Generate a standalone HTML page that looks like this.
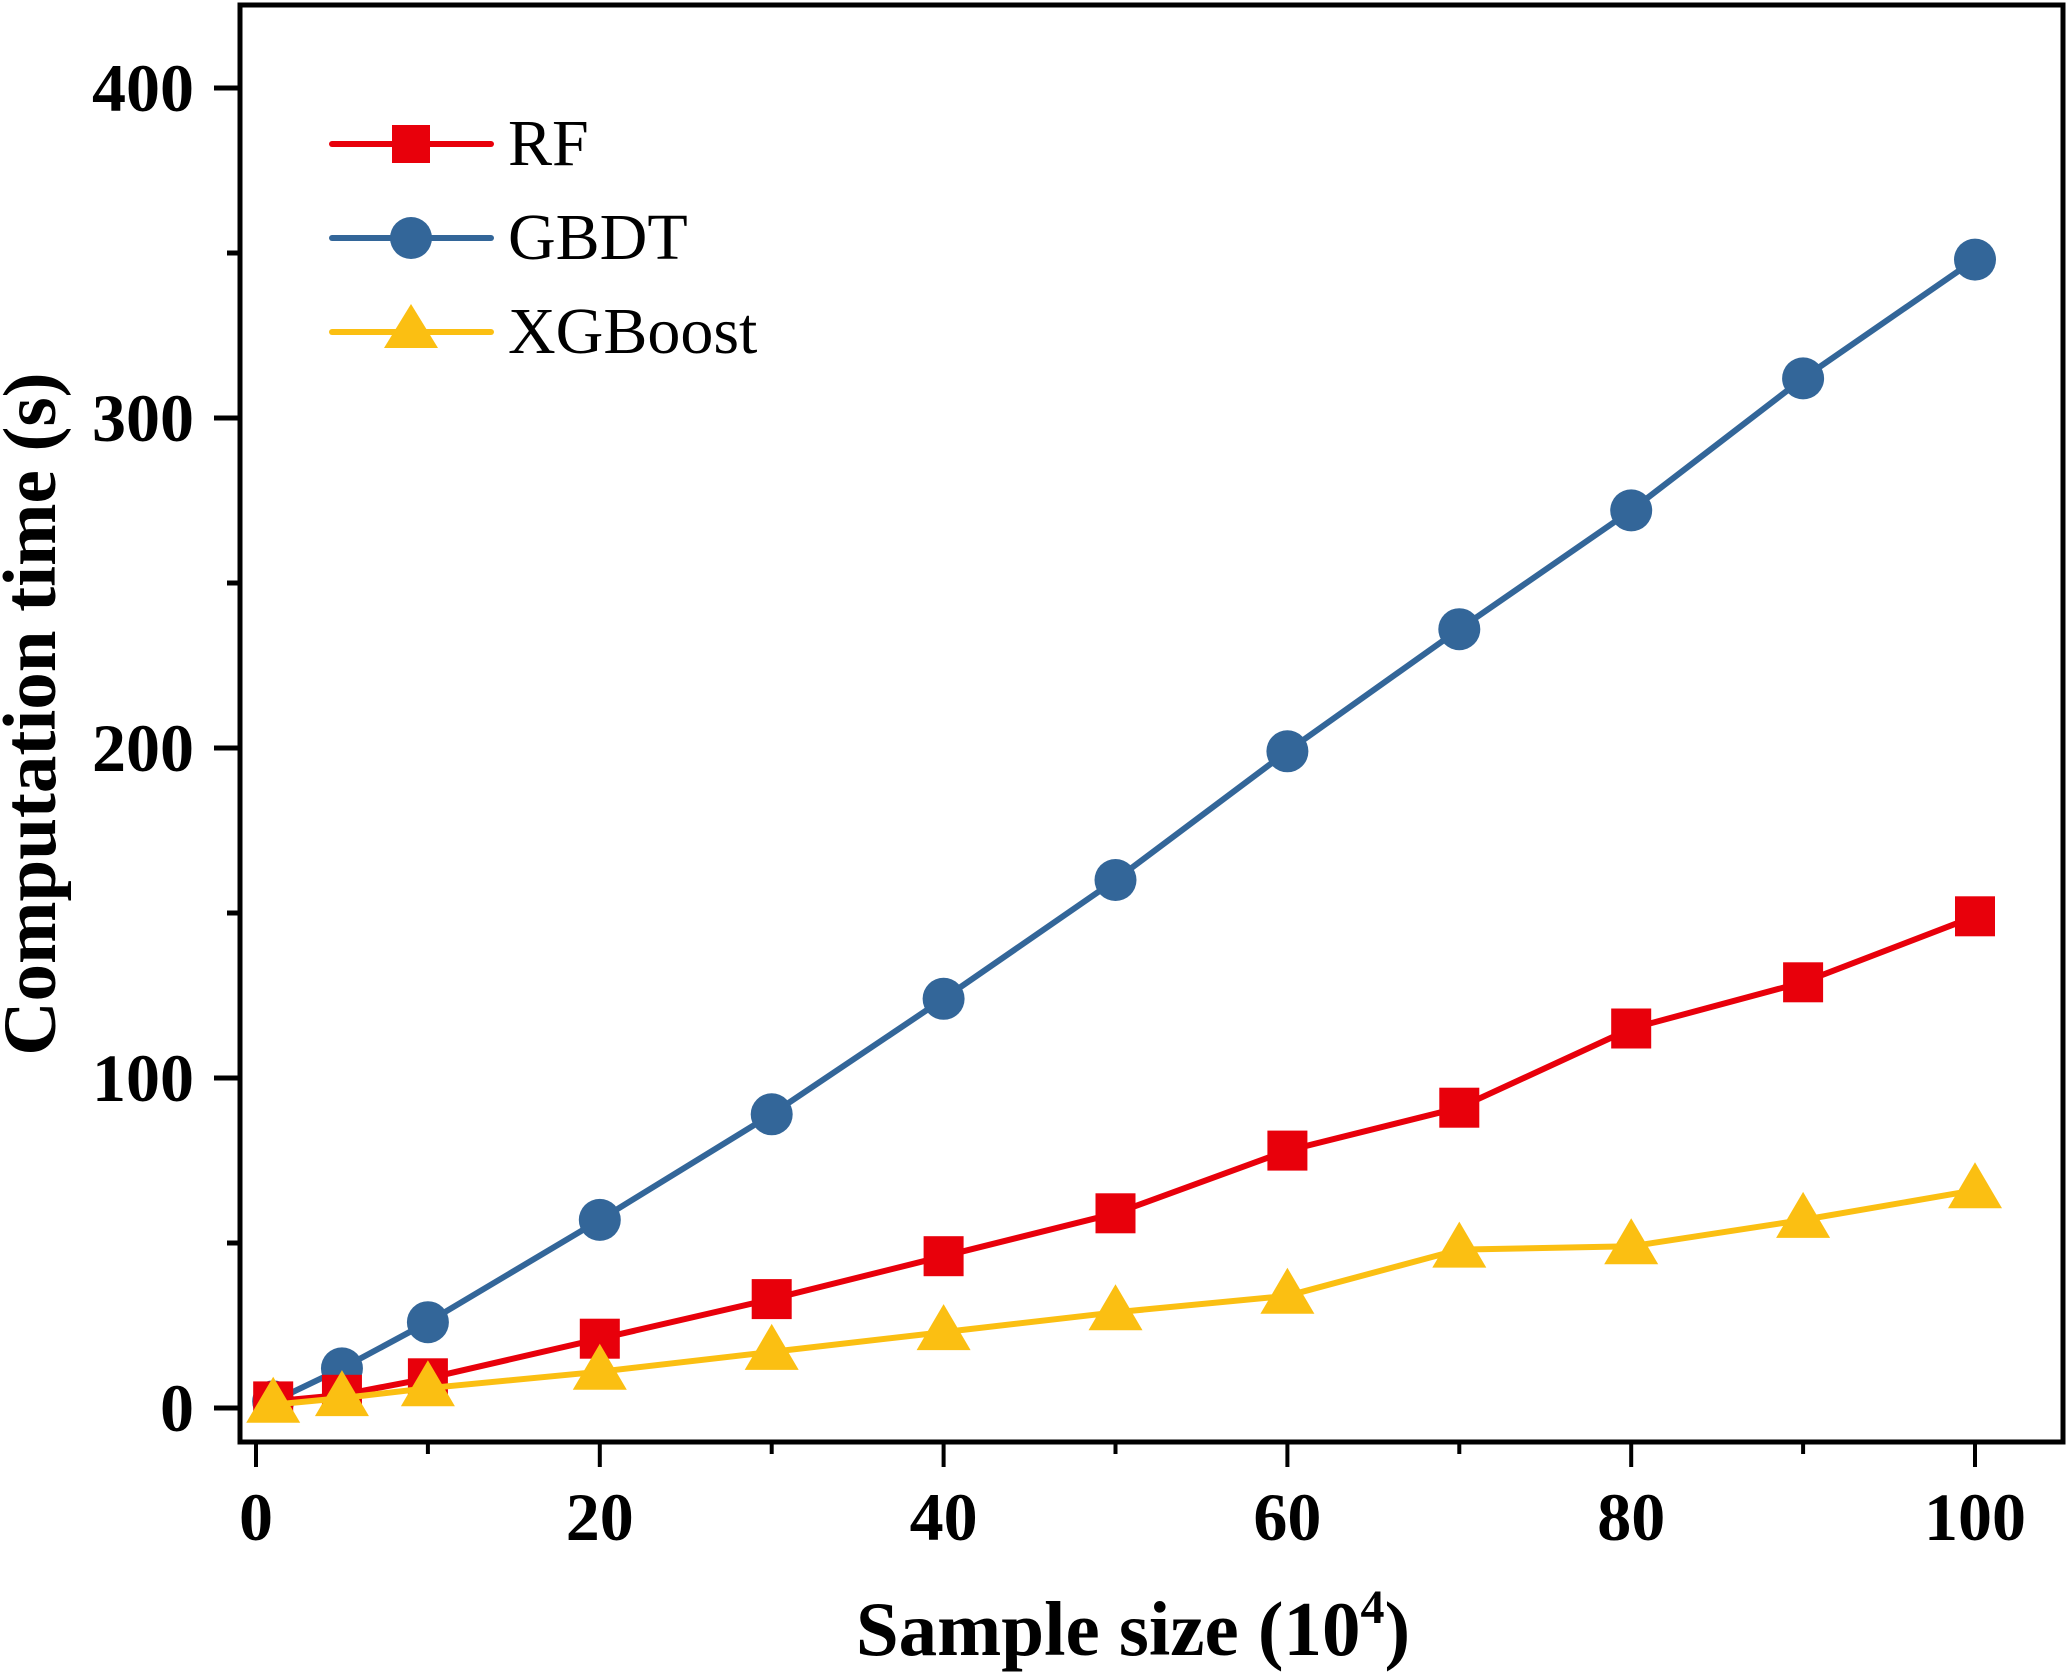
<!DOCTYPE html>
<html><head><meta charset="utf-8"><style>
html,body{margin:0;padding:0;background:#fff;}
svg{display:block;font-family:"Liberation Serif",serif;}
</style></head><body>
<svg id="chart" width="2067" height="1676" viewBox="0 0 2067 1676">
<rect x="240" y="5" width="1823" height="1437" fill="#fff" stroke="#000" stroke-width="5"/>
<g id="axes"></g>
<g id="series"></g>
<text x="1133" y="1655" font-size="77" font-weight="bold" text-anchor="middle">Sample size (10<tspan dy="-32" font-size="48">4</tspan><tspan dy="32">)</tspan></text>
<text transform="translate(55,714) rotate(-90)" font-size="75" font-weight="bold" text-anchor="middle">Computation time (s)</text>
<g>
<g>
<line x1="332" y1="144" x2="491" y2="144" stroke="#e8000b" stroke-width="6" stroke-linecap="round"/>
<rect x="392" y="125" width="38" height="38" fill="#e8000b"/>
<text x="508" y="165" font-size="66">RF</text></g>
<g>
<line x1="332" y1="238" x2="491" y2="238" stroke="#336699" stroke-width="6" stroke-linecap="round"/>
<ellipse cx="411" cy="238" rx="21" ry="21" fill="#336699"/>
<text x="508" y="259" font-size="66">GBDT</text></g>
<g>
<line x1="332" y1="332" x2="491" y2="332" stroke="#fbbf12" stroke-width="6" stroke-linecap="round"/>
<polygon points="411,304 438,348 384,348" fill="#fbbf12"/>
<text x="508" y="353" font-size="66">XGBoost</text></g>
</g>
</svg>
<script>
const xValues=[1,5,10,20,30,40,50,60,70,80,90,100];
const rfValues=[2,4,9,21,33,46,59,78,91,115,129,149];
const gbdtValues=[2,12,26,57,89,124,160,199,236,272,312,348];
const xgbValues=[1,3,6,11,17,23,29,34,48,49,57,66];
const xTickLabels=[0,20,40,60,80,100];
const yTickLabels=[0,100,200,300,400];
const NS='http://www.w3.org/2000/svg';
function xs(v){return 256+v*17.19;}
function ys(v){return 1408-v*3.3;}
function mk(tag,attrs,parent){const e=document.createElementNS(NS,tag);for(const k in attrs)e.setAttribute(k,attrs[k]);parent.appendChild(e);return e;}
const axes=document.getElementById('axes');
for(let v=0;v<=100;v+=10){const major=v%20===0;
 const t=mk('line',{x1:xs(v),x2:xs(v),y1:1442,y2:major?1467:1454,stroke:'#000','stroke-width':4},axes);
 
 }
xTickLabels.forEach(v=>{const t=mk('text',{x:xs(v),y:1540,'font-size':68,'font-weight':'bold','text-anchor':'middle'},axes);t.textContent=v;
 
 });
for(let v=0;v<=400;v+=50){const major=v%100===0;
 const t=mk('line',{x1:major?214:227,x2:240,y1:ys(v),y2:ys(v),stroke:'#000','stroke-width':5},axes);
 
 }
yTickLabels.forEach(v=>{const t=mk('text',{x:194,y:ys(v)+23,'font-size':68,'font-weight':'bold','text-anchor':'end'},axes);t.textContent=v;
 
 });
const sg=document.getElementById('series');
function series(vals,color,shape,name){
 const g=mk('g',{},sg);
 
 
 const pl=mk('polyline',{points:vals.map((v,i)=>xs(xValues[i])+','+ys(v)).join(' '),fill:'none',stroke:color,'stroke-width':6,'stroke-linejoin':'round'},g);
 
 
 vals.forEach((v,i)=>{const cx=xs(xValues[i]),cy=ys(v);let m;
  if(shape==='square')m=mk('rect',{x:cx-20,y:cy-20,width:40,height:40,fill:color},g);
  else if(shape==='circle')m=mk('circle',{cx:cx,cy:cy,r:21,fill:color},g);
  else m=mk('polygon',{points:`${cx},${cy-28} ${cx+27},${cy+18} ${cx-27},${cy+18}`,fill:color},g);
  
  });
}
series(gbdtValues,'#336699','circle','gbdt');
series(rfValues,'#e8000b','square','rf');
series(xgbValues,'#fbbf12','triangle','xgboost');
</script>
</body></html>
